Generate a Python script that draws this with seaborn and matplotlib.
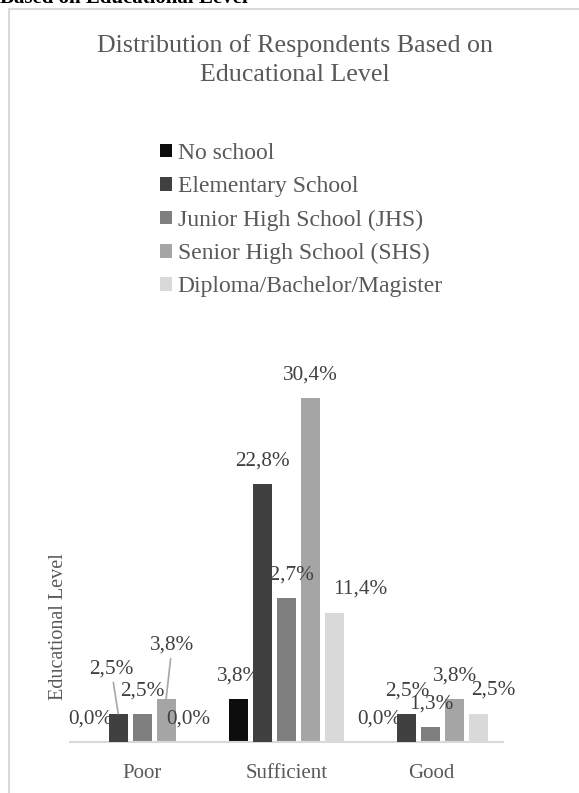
import numpy as np
import pandas as pd
import matplotlib
matplotlib.use("Agg")
import matplotlib.pyplot as plt
import seaborn as sns
from matplotlib.patches import Rectangle

# # # # # data # # # # #

RATINGS = ["Poor", "Sufficient", "Good"]
LEVELS = ["No school", "Elementary School", "Junior High School (JHS)",
          "Senior High School (SHS)", "Diploma/Bachelor/Magister"]
NO_SCHOOL = [0.0, 3.8, 0.0]
ELEMENTARY = [2.5, 22.8, 2.5]
JHS = [2.5, 12.7, 1.3]
SHS = [3.8, 30.4, 3.8]
DIPLOMA = [0.0, 11.4, 2.5]
COLORS = ["#0d0d0d", "#404040", "#7f7f7f", "#a5a5a5", "#d9d9d9"]

TITLE = "Distribution of Respondents Based on\nEducational Level"
Y_LABEL = "Educational Level"
HEADER = "Based on Educational Level"

# # # # # layout (pixels) # # # # #

W, H = 579, 793
TXT = "#595959"
LBL = "#404040"
FONT = ["Liberation Serif", "DejaVu Serif"]

# label nudges in pixels (level index, rating index) -> (dx, dy)
NUDGE = {(0, 0): (-4, 23), (4, 0): (-2, 23), (0, 2): (-4, 23),
         (1, 0): (-7, 45), (3, 0): (6, 54),
         (4, 1): (26, 24), (4, 2): (15, 24)}
LEADERS = [(1, 0), (3, 0)]

plt.rcParams['font.family'] = FONT

df = pd.DataFrame({
    "rating": RATINGS * len(LEVELS),
    "level": np.repeat(LEVELS, len(RATINGS)),
    "pct": NO_SCHOOL + ELEMENTARY + JHS + SHS + DIPLOMA,
})

fig = plt.figure(figsize=(W / 100, H / 100), dpi=100)
ax = fig.add_axes([70 / W, 1 - 742 / H, 433 / W, (742 - 346) / H])

sns.barplot(data=df, x="rating", y="pct", hue="level", hue_order=LEVELS,
            order=RATINGS, palette=COLORS, saturation=1, width=0.83,
            gap=0.2, ax=ax, errorbar=None)
ax.set_ylim(0, 35)

# elementary bars sit over the hidden "1" of the 12,7% label
for p in ax.containers[1]:
    p.set_zorder(4)

# data labels
for li, cont in enumerate(ax.containers):
    for ri, bar in enumerate(cont):
        val = bar.get_height()
        dx, dy = NUDGE.get((li, ri), (0, 23))
        x = bar.get_x() + bar.get_width() / 2
        arrow = None
        if (li, ri) in LEADERS:
            arrow = dict(arrowstyle="-", color="#a6a6a6", lw=1.2,
                         shrinkA=1, shrinkB=0)
        zo = 3 if (li, ri) == (2, 1) else 6
        ax.annotate(("%.1f%%" % val).replace(".", ","), xy=(x, val),
                    xytext=(dx, dy), textcoords="offset pixels",
                    ha="center", va="center", fontsize=15.3, color=LBL,
                    arrowprops=arrow, zorder=zo, annotation_clip=False)

# axes styling
for s in ["top", "right", "left"]:
    ax.spines[s].set_visible(False)
ax.spines["bottom"].set_color("#d9d9d9")
ax.spines["bottom"].set_linewidth(1.5)
ax.set_yticks([])
ax.set_xlabel("")
ax.set_ylabel("")
ax.tick_params(axis="x", length=0, pad=16, labelsize=15, labelcolor=TXT)
ax.set_facecolor("none")

# legend above the plot
handles, labels = ax.get_legend_handles_labels()
ax.get_legend().remove()
fig.legend(handles, labels, loc="upper left",
           bbox_to_anchor=(160 / W, 1 - 143 / H), frameon=False,
           fontsize=17, labelcolor=TXT, handlelength=0.5, handleheight=0.5,
           handletextpad=0.25, labelspacing=0.52, borderpad=0,
           borderaxespad=0)

# titles and frame
fig.text(295 / W, 1 - 60 / H, TITLE, ha="center", va="center",
         fontsize=18.7, color=TXT, linespacing=1.38)
fig.text(59 / W, 1 - 627 / H, Y_LABEL, rotation=90, ha="center",
         va="center", fontsize=14.5, color=TXT)
fig.text(0, 1 - 3 / H, HEADER, ha="left", va="baseline", fontsize=15,
         fontweight="bold", color="black")
fig.patches.append(Rectangle((9 / W, -0.1), 1.1, 1.1 - 9 / H,
                             transform=fig.transFigure, fill=False,
                             edgecolor="#d9d9d9", lw=1.5))

fig.savefig("out.png", dpi=100)
